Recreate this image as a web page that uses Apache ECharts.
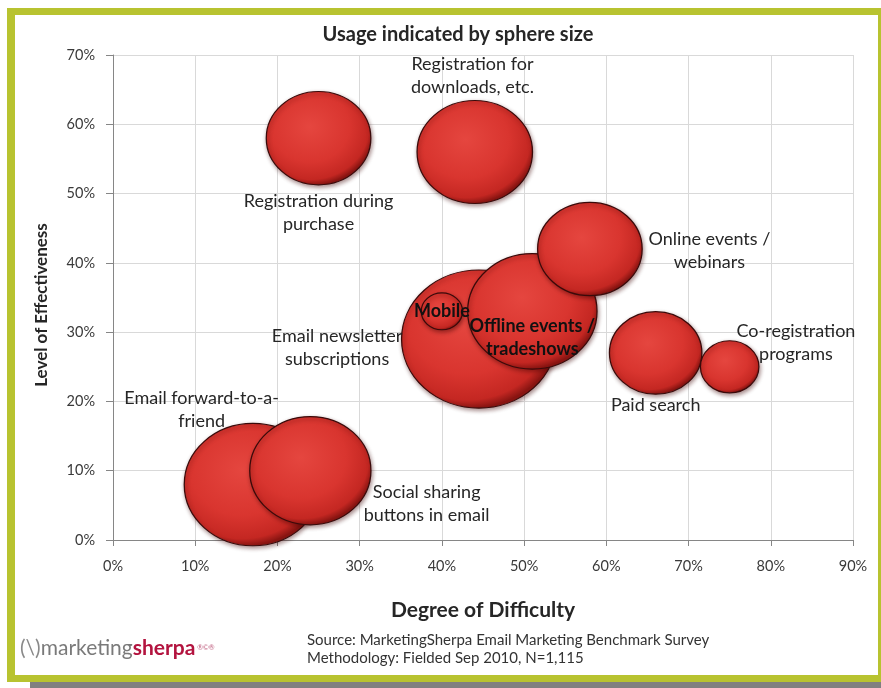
<!DOCTYPE html>
<html><head><meta charset="utf-8">
<script src="https://cdn.jsdelivr.net/npm/echarts@6/dist/echarts.min.js"></script>
<style>html,body{margin:0;padding:0;background:#fff}#c{width:881px;height:688px}</style>
</head><body><div id="c"></div>
<script>
// ---- data ----
const methods = [
  'Registration during\npurchase',
  'Registration for\ndownloads, etc.',
  'Email newsletter\nsubscriptions',
  'Mobile',
  'Offline events /\ntradeshows',
  'Online events /\nwebinars',
  'Paid search',
  'Co-registration\nprograms',
  'Email forward-to-a-\nfriend',
  'Social sharing\nbuttons in email'
];
const difficulty    = [25, 44, 44.5, 40, 51, 58, 66, 75, 17, 24];   // % (x)
const effectiveness = [58, 56, 29, 33, 33, 42, 27, 25, 8, 10];      // % (y)
const usage         = [32, 39, 70, 5, 49, 32, 25, 10, 55, 43];      // sphere size
const xTicks = [0, 10, 20, 30, 40, 50, 60, 70, 80, 90];
const yTicks = [0, 10, 20, 30, 40, 50, 60, 70];

// ---- styling / layout ----
const FONT = 'Lato, "Open Sans", sans-serif';
const K = 16.5, RATIO = 1.12;
const labelPlace = [
  ['50%', '129%'], ['48%', '-23%'], ['-41%', '56%'], ['50%', '50%'], ['50%', '73%'],
  ['163%', '52%'], ['50%', '113%'], ['161%', '4%'], ['13%', '-11%'], ['145%', '80%']
];
const boldLabel = [false, false, false, true, true, false, false, false, false, false];

const sphere = new echarts.graphic.RadialGradient(0.42, 0.38, 0.62, [
  { offset: 0, color: '#e5463f' },
  { offset: 0.6, color: '#d9352f' },
  { offset: 0.9, color: '#c42722' },
  { offset: 1, color: '#8a1512' }
]);

const data = methods.map((m, i) => ({
  name: m,
  value: [difficulty[i], effectiveness[i], usage[i]],
  label: {
    position: labelPlace[i],
    align: 'center',
    verticalAlign: 'middle',
    fontWeight: boldLabel[i] ? 'bold' : 'normal',
    color: boldLabel[i] ? '#111' : '#262626'
  }
}));

const chart = echarts.init(document.getElementById('c'));
chart.setOption({
  animation: false,
  backgroundColor: '#fff',
  grid: { left: 113, right: 28, top: 55, bottom: 148 },
  xAxis: {
    type: 'value', min: xTicks[0], max: xTicks[xTicks.length - 1], interval: 10,
    name: 'Degree of Difficulty', nameLocation: 'middle', nameGap: 60,
    nameTextStyle: { fontFamily: FONT, fontSize: 21, fontWeight: 'bold', color: '#262626' },
    axisLine: { lineStyle: { color: '#868686' } },
    axisTick: { show: true, length: 6, lineStyle: { color: '#868686' } },
    axisLabel: { formatter: '{value}%', margin: 19, fontFamily: FONT, fontSize: 14.5, color: '#3a3a3a' },
    splitLine: { show: true, lineStyle: { color: '#d9d9d9' } }
  },
  yAxis: {
    type: 'value', min: yTicks[0], max: yTicks[yTicks.length - 1], interval: 10,
    axisLine: { show: true, lineStyle: { color: '#868686' } },
    axisTick: { show: true, length: 7, lineStyle: { color: '#868686' } },
    axisLabel: { formatter: '{value}%', margin: 18, fontFamily: FONT, fontSize: 14.5, color: '#3a3a3a' },
    splitLine: { show: true, lineStyle: { color: '#d9d9d9' } }
  },
  series: [{
    type: 'scatter',
    data: data,
    symbol: 'circle',
    symbolSize: v => { const d = K * Math.sqrt(v[2]); return [d * RATIO, d]; },
    itemStyle: {
      color: sphere, opacity: 1, borderColor: '#3a0a0a', borderWidth: 1.2,
      shadowColor: 'rgba(60,0,0,0.45)', shadowBlur: 4, shadowOffsetX: 1, shadowOffsetY: 2
    },
    label: {
      show: true, formatter: p => p.name,
      fontFamily: FONT, fontSize: 18, lineHeight: 23
    },
    emphasis: { disabled: true }
  }],
  graphic: [
    { type: 'rect', shape: { x: 7, y: 8, width: 874, height: 7 }, style: { fill: '#b8c330' }, silent: true },
    { type: 'rect', shape: { x: 7, y: 8, width: 8, height: 674 }, style: { fill: '#b8c330' }, silent: true },
    { type: 'rect', shape: { x: 7, y: 675, width: 874, height: 7 }, style: { fill: '#b8c330' }, silent: true },
    { type: 'rect', shape: { x: 878, y: 8, width: 3, height: 674 }, style: { fill: '#b8c330' }, silent: true },
    { type: 'rect', shape: { x: 30, y: 682, width: 851, height: 6 }, style: { fill: '#808080' }, silent: true },
    { type: 'text', x: 458, y: 35, style: { text: 'Usage indicated by sphere size', align: 'center', verticalAlign: 'middle',
      font: 'bold 20px ' + FONT, fill: '#262626' } },
    { type: 'text', x: 42, y: 305, rotation: Math.PI / 2, style: { text: 'Level of Effectiveness', align: 'center', verticalAlign: 'middle',
      font: 'bold 17px ' + FONT, fill: '#262626' } },
    { type: 'text', x: 307, y: 640, style: { text: 'Source: MarketingSherpa Email Marketing Benchmark Survey', verticalAlign: 'middle',
      font: '15px ' + FONT, fill: '#333' } },
    { type: 'text', x: 307, y: 658, style: { text: 'Methodology: Fielded Sep 2010, N=1,115', verticalAlign: 'middle',
      font: '15px ' + FONT, fill: '#333' } },
    { type: 'text', x: 20, y: 648, style: {
      text: '{a|(\\)}{b|marketing}{c|sherpa}{d| ®©®}', verticalAlign: 'middle',
      rich: {
        a: { fontFamily: FONT, fontSize: 21, fill: '#8a8a8a' },
        b: { fontFamily: FONT, fontSize: 21, fill: '#7a7a7a' },
        c: { fontFamily: FONT, fontSize: 21, fontWeight: 'bold', fill: '#b3143f' },
        d: { fontFamily: FONT, fontSize: 7, fill: '#c06080' }
      } } }
  ]
});
</script></body></html>
